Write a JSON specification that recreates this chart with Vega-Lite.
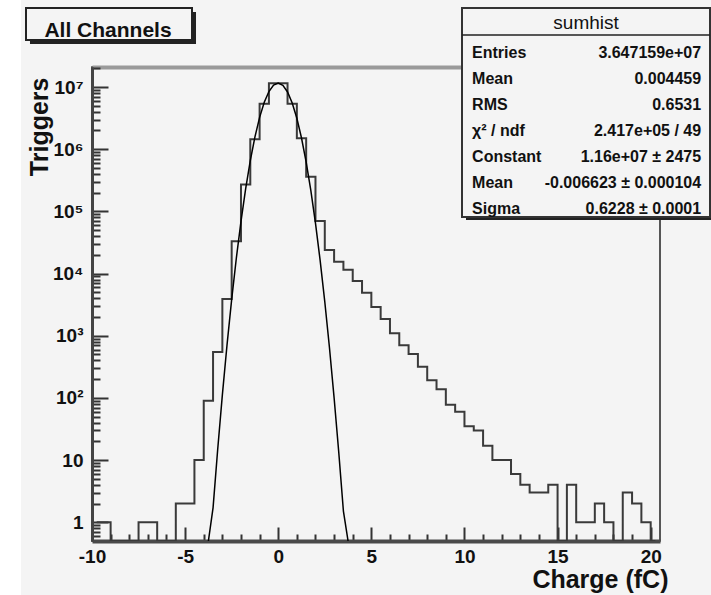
{
  "$schema": "https://vega.github.io/schema/vega-lite/v6.json",
  "width": 568,
  "height": 474,
  "autosize": {"type": "none"},
  "padding": {"left": 92, "top": 67, "right": 51, "bottom": 54},
  "background": "#f4f4f4",
  "config": {
    "view": {"stroke": "#222222", "strokeWidth": 1.5, "fill": "#f4f4f4"},
    "font": "Liberation Sans",
    "axis": {"labelFont": "Liberation Sans", "titleFont": "Liberation Sans"}
  },
  "datasets": {
    "hist": [
      {"charge": -9.75, "triggers": 1}, {"charge": -9.25, "triggers": 1}, {"charge": -8.75, "triggers": 0},
      {"charge": -8.25, "triggers": 0}, {"charge": -7.75, "triggers": 0}, {"charge": -7.25, "triggers": 1},
      {"charge": -6.75, "triggers": 1}, {"charge": -6.25, "triggers": 0}, {"charge": -5.75, "triggers": 0},
      {"charge": -5.25, "triggers": 2}, {"charge": -4.75, "triggers": 2}, {"charge": -4.25, "triggers": 10},
      {"charge": -3.75, "triggers": 90}, {"charge": -3.25, "triggers": 550}, {"charge": -2.75, "triggers": 3900},
      {"charge": -2.25, "triggers": 33000}, {"charge": -1.75, "triggers": 270000}, {"charge": -1.25, "triggers": 1440000},
      {"charge": -0.75, "triggers": 5400000}, {"charge": -0.25, "triggers": 11500000}, {"charge": 0.25, "triggers": 11500000},
      {"charge": 0.75, "triggers": 5400000}, {"charge": 1.25, "triggers": 1500000}, {"charge": 1.75, "triggers": 360000},
      {"charge": 2.25, "triggers": 70000}, {"charge": 2.75, "triggers": 24000}, {"charge": 3.25, "triggers": 15500},
      {"charge": 3.75, "triggers": 11500}, {"charge": 4.25, "triggers": 7600}, {"charge": 4.75, "triggers": 4900},
      {"charge": 5.25, "triggers": 2900}, {"charge": 5.75, "triggers": 1860}, {"charge": 6.25, "triggers": 1100},
      {"charge": 6.75, "triggers": 705}, {"charge": 7.25, "triggers": 510}, {"charge": 7.75, "triggers": 318},
      {"charge": 8.25, "triggers": 193}, {"charge": 8.75, "triggers": 138}, {"charge": 9.25, "triggers": 78},
      {"charge": 9.75, "triggers": 60}, {"charge": 10.25, "triggers": 35}, {"charge": 10.75, "triggers": 30},
      {"charge": 11.25, "triggers": 17}, {"charge": 11.75, "triggers": 10}, {"charge": 12.25, "triggers": 10},
      {"charge": 12.75, "triggers": 6}, {"charge": 13.25, "triggers": 4}, {"charge": 13.75, "triggers": 3},
      {"charge": 14.25, "triggers": 3}, {"charge": 14.75, "triggers": 4}, {"charge": 15.25, "triggers": 0},
      {"charge": 15.75, "triggers": 4}, {"charge": 16.25, "triggers": 1}, {"charge": 16.75, "triggers": 1},
      {"charge": 17.25, "triggers": 2}, {"charge": 17.75, "triggers": 1}, {"charge": 18.25, "triggers": 0},
      {"charge": 18.75, "triggers": 3}, {"charge": 19.25, "triggers": 2}, {"charge": 19.75, "triggers": 1},
      {"charge": 20.25, "triggers": 0}
    ],
    "fit": [
      {"charge": -3.75, "triggers": 0.146}, {"charge": -3.5, "triggers": 1.708}, {"charge": -3.25, "triggers": 14.97},
      {"charge": -3.0, "triggers": 111.7}, {"charge": -2.75, "triggers": 709.6}, {"charge": -2.5, "triggers": 3837},
      {"charge": -2.25, "triggers": 17658}, {"charge": -2.0, "triggers": 69171}, {"charge": -1.75, "triggers": 230608},
      {"charge": -1.5, "triggers": 654484}, {"charge": -1.25, "triggers": 1581066}, {"charge": -1.0, "triggers": 3250784},
      {"charge": -0.75, "triggers": 5689220}, {"charge": -0.5, "triggers": 8475540}, {"charge": -0.25, "triggers": 10747052},
      {"charge": 0.0, "triggers": 11599343}, {"charge": 0.25, "triggers": 10655876}, {"charge": 0.5, "triggers": 8332280},
      {"charge": 0.75, "triggers": 5545728}, {"charge": 1.0, "triggers": 3141860}, {"charge": 1.25, "triggers": 1515053},
      {"charge": 1.5, "triggers": 621853}, {"charge": 1.75, "triggers": 217256}, {"charge": 2.0, "triggers": 64606},
      {"charge": 2.25, "triggers": 16353}, {"charge": 2.5, "triggers": 3523}, {"charge": 2.75, "triggers": 646.1},
      {"charge": 3.0, "triggers": 100.86}, {"charge": 3.25, "triggers": 13.4}, {"charge": 3.5, "triggers": 1.515},
      {"charge": 3.75, "triggers": 0.1459}
    ],
    "stats": [
      {"key": "entries", "name": "Entries", "value": "3.647159e+07"},
      {"key": "mean", "name": "Mean", "value": "0.004459"},
      {"key": "rms", "name": "RMS", "value": "0.6531"},
      {"key": "chi2", "name": "χ² / ndf", "value": "2.417e+05 / 49"},
      {"key": "constant", "name": "Constant", "value": "1.16e+07 ± 2475"},
      {"key": "fitmean", "name": "Mean", "value": "-0.006623 ± 0.000104"},
      {"key": "sigma", "name": "Sigma", "value": "0.6228 ± 0.0001"}
    ]
  },
  "layer": [
    {
      "layer": [
        {
          "data": {"name": "hist"},
          "mark": {"type": "line", "interpolate": "step", "color": "#3a3a3a", "strokeWidth": 2, "clip": true},
          "encoding": {
            "x": {
              "field": "charge", "type": "quantitative",
              "scale": {"domain": [-10, 20.5], "nice": false, "zero": false},
              "axis": {
                "values": [-10, -9, -8, -7, -6, -5, -4, -3, -2, -1, 0, 1, 2, 3, 4, 5, 6, 7, 8, 9, 10, 11, 12, 13, 14, 15, 16, 17, 18, 19, 20],
                "labelExpr": "datum.value % 5 === 0 ? '' + datum.value : ''",
                "tickSize": {"condition": {"test": "datum.value % 5 === 0", "value": -14}, "value": -7},
                "tickColor": "#333333", "tickWidth": 2,
                "domainColor": "#4a4a4a", "domainWidth": 4,
                "labelFontWeight": "bold", "labelFontSize": 19, "labelColor": "#111111",
                "labelPadding": 20, "labelFlush": false, "labelOverlap": false,
                "grid": false,
                "title": "Charge (fC)", "titleFontSize": 25, "titleFontWeight": "bold", "titleColor": "#111111",
                "titleAnchor": "end", "titleAlign": "right", "titleX": 576, "titleY": 46, "titleBaseline": "alphabetic"
              }
            },
            "y": {
              "field": "triggers", "type": "quantitative",
              "scale": {"type": "log", "domain": [0.5, 21000000], "nice": false, "clamp": true},
              "axis": {
                "values": [0.6, 0.7, 0.8, 0.9, 1, 2, 3, 4, 5, 6, 7, 8, 9, 10, 20, 30, 40, 50, 60, 70, 80, 90, 100, 200, 300, 400, 500, 600, 700, 800, 900, 1000, 2000, 3000, 4000, 5000, 6000, 7000, 8000, 9000, 10000, 20000, 30000, 40000, 50000, 60000, 70000, 80000, 90000, 100000, 200000, 300000, 400000, 500000, 600000, 700000, 800000, 900000, 1000000, 2000000, 3000000, 4000000, 5000000, 6000000, 7000000, 8000000, 9000000, 10000000, 20000000],
                "labelExpr": "datum.value === 1 ? '1' : datum.value === 10 ? '10' : datum.value === 100 ? '10²' : datum.value === 1000 ? '10³' : datum.value === 10000 ? '10⁴' : datum.value === 100000 ? '10⁵' : datum.value === 1000000 ? '10⁶' : datum.value === 10000000 ? '10⁷' : ''",
                "tickSize": {"condition": {"test": "indexof([1, 10, 100, 1000, 10000, 100000, 1000000, 10000000], datum.value) >= 0", "value": -16}, "value": -8},
                "tickColor": "#333333", "tickWidth": 2,
                "domainColor": "#444444", "domainWidth": 3,
                "labelFontWeight": "bold", "labelFontSize": 19, "labelColor": "#111111",
                "labelPadding": 25, "labelOverlap": false, "labelFlush": false,
                "grid": false,
                "title": "Triggers", "titleFontSize": 25, "titleFontWeight": "bold", "titleColor": "#111111",
                "titleAngle": 270, "titleAlign": "right", "titleBaseline": "alphabetic", "titleX": -45, "titleY": 10
              }
            }
          }
        },
        {
          "data": {"name": "fit"},
          "mark": {"type": "line", "color": "#000000", "strokeWidth": 1.5, "clip": true},
          "encoding": {
            "x": {
              "field": "charge", "type": "quantitative",
              "scale": {"domain": [-10, 20.5], "nice": false, "zero": false},
              "axis": {"orient": "top", "labels": false, "ticks": false, "domainColor": "#9a9a9a", "domainWidth": 4, "title": null, "grid": false}
            },
            "y": {"field": "triggers", "type": "quantitative"}
          }
        }
      ],
      "resolve": {"axis": {"x": "independent"}}
    },
    {
      "data": {"values": [{"title": "All Channels", "stats": "sumhist"}]},
      "layer": [
        {
          "mark": {"type": "rect", "fill": "#ffffff", "strokeWidth": 0},
          "encoding": {
            "x": {"datum": -20, "scale": {"domain": [-10, 20.5], "nice": false, "zero": false}, "axis": null},
            "x2": {"datum": -13.81},
            "y": {"datum": 1000000000000, "scale": {"type": "log", "domain": [0.5, 21000000], "nice": false}, "axis": null},
            "y2": {"datum": 0.001}
          }
        },
        {
          "mark": {"type": "rect", "fill": "#222222", "strokeWidth": 0},
          "encoding": {
            "x": {"datum": -13.33, "axis": null},
            "x2": {"datum": -4.415},
            "y": {"datum": 160970000, "axis": null},
            "y2": {"datum": 49205000}
          }
        },
        {
          "mark": {"type": "rect", "fill": "#f4f4f4", "stroke": "#222222", "strokeWidth": 2},
          "encoding": {
            "x": {"datum": -13.544, "axis": null},
            "x2": {"datum": -4.63},
            "y": {"datum": 186640000, "axis": null},
            "y2": {"datum": 57060000}
          }
        },
        {
          "mark": {"type": "text", "font": "Liberation Sans", "fontSize": 21, "fontWeight": "bold", "color": "#111111", "align": "center", "baseline": "alphabetic"},
          "encoding": {
            "x": {"datum": -9.141, "axis": null},
            "y": {"datum": 63780000, "axis": null},
            "text": {"field": "title"}
          }
        },
        {
          "mark": {"type": "rect", "fill": "#222222", "strokeWidth": 0},
          "encoding": {
            "x": {"datum": 10.083, "axis": null},
            "x2": {"datum": 24.5},
            "y": {"datum": 160970000, "axis": null},
            "y2": {"datum": 72690}
          }
        },
        {
          "mark": {"type": "rect", "fill": "#f4f4f4", "stroke": "#333333", "strokeWidth": 2},
          "encoding": {
            "x": {"datum": 9.868, "axis": null},
            "x2": {"datum": 23.185},
            "y": {"datum": 186640000, "axis": null},
            "y2": {"datum": 81230}
          }
        },
        {
          "mark": {"type": "rule", "color": "#222222", "strokeWidth": 1.5},
          "encoding": {
            "x": {"datum": 9.868, "axis": null},
            "x2": {"datum": 23.185},
            "y": {"datum": 68690000, "axis": null}
          }
        },
        {
          "mark": {"type": "text", "font": "Liberation Sans", "fontSize": 19, "color": "#111111", "align": "center", "baseline": "alphabetic"},
          "encoding": {
            "x": {"datum": 16.53, "axis": null},
            "y": {"datum": 85800000, "axis": null},
            "text": {"field": "stats"}
          }
        }
      ]
    },
    {
      "data": {"name": "stats"},
      "encoding": {
        "y": {"field": "key", "type": "ordinal", "sort": null, "scale": {"type": "point", "range": [-14, 142], "padding": 0}, "axis": null}
      },
      "layer": [
        {
          "mark": {"type": "text", "font": "Liberation Sans", "fontSize": 16, "fontWeight": "bold", "color": "#111111", "align": "left", "baseline": "middle"},
          "encoding": {
            "x": {"datum": 10.41, "scale": {"domain": [-10, 20.5], "nice": false, "zero": false}, "axis": null},
            "text": {"field": "name"}
          }
        },
        {
          "mark": {"type": "text", "font": "Liberation Sans", "fontSize": 16, "fontWeight": "bold", "color": "#111111", "align": "right", "baseline": "middle"},
          "encoding": {
            "x": {"datum": 22.71, "axis": null},
            "text": {"field": "value"}
          }
        }
      ]
    }
  ],
  "resolve": {"scale": {"y": "independent"}}
}
